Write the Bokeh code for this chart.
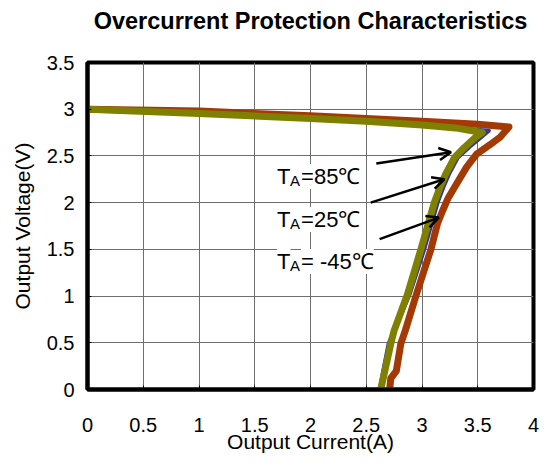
from bokeh.plotting import figure
from bokeh.models import Range1d, Label, Arrow, OpenHead, FixedTicker, Title
from bokeh.embed import file_html
from bokeh.resources import INLINE

# ---- data ----
i_85 = [0.0, 1.0, 2.0, 2.5, 3.0, 3.3, 3.54, 3.48, 3.38, 3.29, 3.21, 3.16, 3.11, 2.99, 2.87, 2.75, 2.72, 2.63]
v_85 = [3.0, 2.955, 2.90, 2.87, 2.83, 2.80, 2.75, 2.70, 2.59, 2.48, 2.30, 2.16, 2.0, 1.5, 1.02, 0.63, 0.49, 0.0]

i_25 = [0.0, 1.0, 2.0, 2.5, 3.0, 3.3, 3.60, 3.52, 3.42, 3.32, 3.24, 3.19, 3.14, 3.02, 2.89, 2.75, 2.70, 2.62]
v_25 = [3.0, 2.955, 2.90, 2.87, 2.83, 2.80, 2.77, 2.69, 2.59, 2.48, 2.30, 2.16, 2.0, 1.5, 1.02, 0.63, 0.49, 0.0]

i_m45 = [0.0, 1.0, 2.0, 3.0, 3.5, 3.78, 3.70, 3.61, 3.49, 3.40, 3.30, 3.235, 3.18, 3.14, 3.08, 2.95, 2.85, 2.81, 2.77, 2.72, 2.71]
v_m45 = [3.0, 2.98, 2.93, 2.87, 2.84, 2.81, 2.70, 2.62, 2.52, 2.38, 2.18, 2.05, 1.90, 1.78, 1.5, 1.02, 0.63, 0.49, 0.20, 0.12, 0.0]

x_ticks = [0, 0.5, 1, 1.5, 2, 2.5, 3, 3.5, 4]
y_ticks = [0, 0.5, 1, 1.5, 2, 2.5, 3, 3.5]

ann_sub = ["=85℃", "=25℃", "= -45℃"]
ann_x = [1.70, 1.70, 1.70]
ann_y = [2.28, 1.82, 1.37]
arrow_x0 = [2.59, 2.54, 2.62]
arrow_y0 = [2.42, 2.00, 1.61]
arrow_x1 = [3.26, 3.20, 3.15]
arrow_y1 = [2.54, 2.25, 1.84]

FONT = "Liberation Sans"

p = figure(frame_width=446, frame_height=327, output_backend="svg", toolbar_location=None,
           x_range=Range1d(0, 4), y_range=Range1d(0, 3.5),
           min_border_left=87, min_border_right=7, min_border_top=62, min_border_bottom=60)

p.title.text = "Overcurrent Protection Characteristics"
p.title.text_font = FONT
p.title.text_font_size = "23.5px"
p.title.text_font_style = "bold"
p.title.align = "center"
p.title.vertical_align = "bottom"
p.title.text_color = "black"
p.title.standoff = 0

# spacer between the title and the plot frame
p.add_layout(Title(text=" ", text_font_size="10px", standoff=16), "above")

p.outline_line_color = "black"
p.outline_line_width = 4
p.outline_line_alpha = 1.0

for ax in (p.xaxis[0], p.yaxis[0]):
    ax.axis_line_width = 4
    ax.axis_line_color = "black"
    ax.major_tick_in = 4
    ax.major_tick_out = 0
    ax.minor_tick_in = 0
    ax.minor_tick_out = 0
    ax.major_label_text_font = FONT
    ax.major_label_text_font_size = "20px"
    ax.major_label_text_color = "black"
    ax.axis_label_text_font = FONT
    ax.axis_label_text_font_size = "21px"
    ax.axis_label_text_font_style = "normal"
    ax.axis_label_text_color = "black"

p.xaxis[0].ticker = FixedTicker(ticks=x_ticks)
p.yaxis[0].ticker = FixedTicker(ticks=y_ticks)
p.xaxis[0].axis_label = "Output Current(A)"
p.yaxis[0].axis_label = "Output Voltage(V)"
p.xaxis[0].major_label_standoff = 28
p.xaxis[0].axis_label_standoff = -5
p.yaxis[0].major_label_standoff = 13
p.yaxis[0].axis_label_standoff = 10

p.xgrid.ticker = FixedTicker(ticks=x_ticks)
p.ygrid.ticker = FixedTicker(ticks=y_ticks)
for g in (p.xgrid[0], p.ygrid[0]):
    g.grid_line_color = "#6e6e6e"
    g.grid_line_width = 1

p.line(i_m45, v_m45, line_color="#a33a05", line_width=7, line_join="round", line_cap="round")
p.line(i_25, v_25, line_color="#3535a0", line_width=4, line_join="round", line_cap="round")
p.line(i_85, v_85, line_color="#808000", line_width=7, line_join="round", line_cap="round")

for k in range(3):
    p.add_layout(Label(x=ann_x[k], y=ann_y[k], text="T", text_font=FONT, text_font_size="22px",
                       text_baseline="alphabetic", background_fill_color="white", text_color="black"))
    p.add_layout(Label(x=ann_x[k], y=ann_y[k], x_offset=13, y_offset=-4, text="A", text_font=FONT,
                       text_font_size="15px", text_baseline="alphabetic", background_fill_color="white",
                       text_color="black"))
    p.add_layout(Label(x=ann_x[k], y=ann_y[k], x_offset=24, text=ann_sub[k], text_font=FONT,
                       text_font_size="22px", text_baseline="alphabetic", background_fill_color="white",
                       text_color="black"))
    p.add_layout(Arrow(x_start=arrow_x0[k], y_start=arrow_y0[k], x_end=arrow_x1[k], y_end=arrow_y1[k],
                       line_width=2.5, line_color="black",
                       end=OpenHead(size=12, line_width=2.5, line_color="black")))

open("out.html", "w").write(file_html(p, INLINE))
